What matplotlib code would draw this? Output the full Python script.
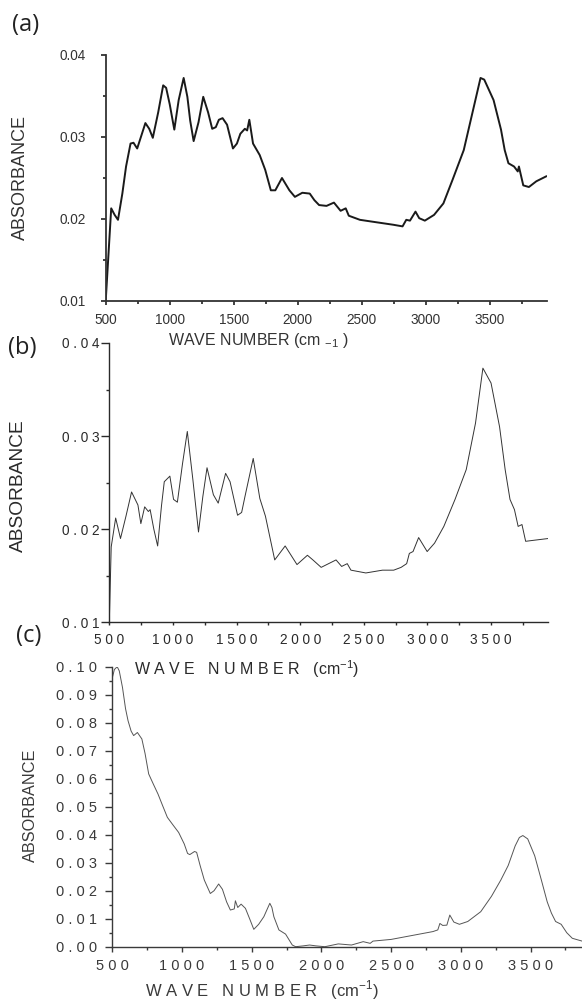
import matplotlib
matplotlib.use('Agg')
import matplotlib.pyplot as plt
from matplotlib.ticker import MultipleLocator, FuncFormatter

# figure size in pixels (dpi 100)
W, H = 582, 1002

# (a) spectrum
wn_a = [500, 543, 570, 596, 630, 659, 694, 717, 746, 775, 810, 840, 868, 910, 949,
        972, 1000, 1036, 1070, 1109, 1138, 1160, 1187, 1225, 1262, 1300, 1332, 1360,
        1384, 1413, 1448, 1494, 1525, 1552, 1587, 1605, 1622, 1651, 1703, 1746, 1790,
        1825, 1877, 1935, 1978, 2036, 2094, 2130, 2167, 2225, 2283, 2335, 2375, 2399,
        2486, 2572, 2659, 2746, 2819, 2848, 2877, 2920, 2949, 2993, 3065, 3138, 3210,
        3297, 3370, 3428, 3457, 3530, 3588, 3617, 3646, 3690, 3719, 3728, 3762, 3806,
        3864, 3941]
abs_a = [0.0100, 0.0213, 0.0205, 0.0199, 0.0231, 0.0264, 0.0292, 0.0293, 0.0286, 0.0300,
         0.0317, 0.0310, 0.0299, 0.0330, 0.0363, 0.0360, 0.0340, 0.0309, 0.0345, 0.0372,
         0.0349, 0.0320, 0.0295, 0.0318, 0.0349, 0.0330, 0.0310, 0.0312, 0.0321, 0.0323,
         0.0315, 0.0286, 0.0292, 0.0304, 0.0310, 0.0308, 0.0321, 0.0292, 0.0278, 0.0260,
         0.0235, 0.0235, 0.0250, 0.0235, 0.0227, 0.0232, 0.0231, 0.0223, 0.0217, 0.0216,
         0.0220, 0.0210, 0.0213, 0.0204, 0.0199, 0.0197, 0.0195, 0.0193, 0.0191, 0.0199,
         0.0198, 0.0209, 0.0201, 0.0198, 0.0205, 0.0219, 0.0248, 0.0284, 0.0333, 0.0372,
         0.0370, 0.0345, 0.0309, 0.0284, 0.0268, 0.0264, 0.0258, 0.0264, 0.0241, 0.0239,
         0.0246, 0.0252]

# (b) spectrum
wn_b = [500, 515, 550, 588, 631, 675, 725, 748, 778, 807, 821, 850, 880, 910, 932, 976,
        1005, 1035, 1075, 1113, 1157, 1201, 1235, 1268, 1318, 1356, 1414, 1449, 1508,
        1540, 1566, 1631, 1683, 1727, 1800, 1882, 1975, 2057, 2100, 2165, 2282, 2326,
        2370, 2399, 2516, 2647, 2735, 2793, 2837, 2858, 2887, 2931, 2998, 3056, 3129,
        3217, 3305, 3378, 3436, 3500, 3567, 3611, 3649, 3684, 3713, 3743, 3772, 3830, 3950]
abs_b = [0.0100, 0.0181, 0.0212, 0.0190, 0.0214, 0.0240, 0.0226, 0.0206, 0.0224, 0.0219,
         0.0221, 0.0200, 0.0182, 0.0225, 0.0251, 0.0257, 0.0232, 0.0229, 0.0270, 0.0305,
         0.0253, 0.0197, 0.0235, 0.0266, 0.0237, 0.0228, 0.0260, 0.0251, 0.0215, 0.0218,
         0.0235, 0.0276, 0.0233, 0.0214, 0.0167, 0.0182, 0.0162, 0.0172, 0.0167, 0.0159,
         0.0167, 0.0160, 0.0163, 0.0156, 0.0153, 0.0156, 0.0156, 0.0159, 0.0163, 0.0174,
         0.0176, 0.0191, 0.0176, 0.0185, 0.0203, 0.0232, 0.0264, 0.0314, 0.0373, 0.0357,
         0.0310, 0.0264, 0.0232, 0.0221, 0.0203, 0.0205, 0.0187, 0.0188, 0.0190]

# (c) spectrum
wn_c = [500, 515, 535, 550, 573, 595, 613, 635, 653, 680, 712, 735, 761, 795, 828, 860,
        895, 935, 976, 1016, 1040, 1056, 1090, 1105, 1130, 1160, 1203, 1230, 1263, 1290,
        1320, 1347, 1375, 1383, 1400, 1424, 1455, 1485, 1515, 1550, 1587, 1612, 1630,
        1645, 1659, 1695, 1743, 1791, 1815, 1870, 1915, 1960, 2025, 2121, 2216, 2300,
        2350, 2370, 2500, 2650, 2800, 2835, 2850, 2870, 2900, 2921, 2950, 2990, 3050,
        3143, 3220, 3287, 3340, 3390, 3420, 3445, 3480, 3530, 3578, 3620, 3650, 3680,
        3720, 3760, 3800, 3870, 3950]
abs_c = [0.0960, 0.0990, 0.1000, 0.0985, 0.0926, 0.0850, 0.0807, 0.0770, 0.0754, 0.0765,
         0.0742, 0.0690, 0.0617, 0.0580, 0.0545, 0.0505, 0.0462, 0.0435, 0.0408, 0.0367,
         0.0333, 0.0329, 0.0340, 0.0337, 0.0290, 0.0238, 0.0190, 0.0200, 0.0224, 0.0205,
         0.0160, 0.0131, 0.0135, 0.0164, 0.0140, 0.0152, 0.0137, 0.0100, 0.0062, 0.0080,
         0.0107, 0.0135, 0.0155, 0.0140, 0.0107, 0.0060, 0.0045, 0.0006, 0.0000, 0.0003,
         0.0006, 0.0003, 0.0000, 0.0010, 0.0006, 0.0018, 0.0012, 0.0020, 0.0026, 0.0040,
         0.0054, 0.0060, 0.0083, 0.0076, 0.0077, 0.0113, 0.0088, 0.0080, 0.0090, 0.0125,
         0.0180, 0.0238, 0.0290, 0.0360, 0.0390, 0.0397, 0.0385, 0.0325, 0.0238, 0.0160,
         0.0120, 0.0090, 0.0080, 0.0050, 0.0030, 0.0020, 0.0015]

x_ticks = [500, 1000, 1500, 2000, 2500, 3000, 3500]

SANS = ['Liberation Sans', 'DejaVu Sans']


def px_rect(left, top, right, bottom):
    return [left / W, 1 - bottom / H, (right - left) / W, (bottom - top) / H]


def spaced(fmt):
    # tick labels drawn with wide letter spacing
    return FuncFormatter(lambda v, p: ' '.join(fmt.format(v)))


def style_axes(ax, col, lw, ylen, xlen, ypad, xpad, size):
    for s in ['top', 'right']:
        ax.spines[s].set_visible(False)
    for s in ['left', 'bottom']:
        ax.spines[s].set_color(col)
        ax.spines[s].set_linewidth(lw)
    ax.set_xticks(x_ticks)
    ax.xaxis.set_minor_locator(MultipleLocator(250))
    ax.tick_params(axis='y', which='major', direction='out', length=ylen, width=lw,
                   pad=ypad, colors=col, labelsize=size)
    ax.tick_params(axis='x', which='major', direction='out', length=xlen, width=lw,
                   pad=xpad, colors=col, labelsize=size)
    ax.tick_params(which='minor', direction='out', length=2.2, width=lw, colors=col)
    for lab in ax.get_xticklabels() + ax.get_yticklabels():
        lab.set_family(SANS)


fig = plt.figure(figsize=(W / 100, H / 100), dpi=100)

# ---- (a)
ax = fig.add_axes(px_rect(105.7, 55, 546.7, 301))
ax.plot(wn_a, abs_a, color='#1a1a1a', lw=1.4)
ax.set_xlim(500, 3945)
ax.set_ylim(0.01, 0.04)
ax.set_yticks([0.01, 0.02, 0.03, 0.04])
ax.yaxis.set_minor_locator(MultipleLocator(0.005))
ax.yaxis.set_major_formatter(FuncFormatter(lambda v, p: f'{v:.2f}'))
style_axes(ax, '#333333', 1.3, 3.6, 3.0, 10.8, 5.5, 9.8)
fig.text(20.5 / W, 1 - 178 / H, 'ABSORBANCE', rotation=90, ha='center', va='center',
         fontsize=13, color='#333333', family=SANS)
fig.text(258 / W, 1 - 341 / H, r'WAVE NUMBER (cm $\mathregular{_{-1}}$ )', ha='center',
         va='center', fontsize=11.5, color='#333333', family=SANS)

# ---- (b)
ax = fig.add_axes(px_rect(109.3, 343, 548.3, 622.3))
ax.plot(wn_b, abs_b, color='#333333', lw=0.7)
ax.set_xlim(500, 3950)
ax.set_ylim(0.01, 0.04)
ax.set_yticks([0.01, 0.02, 0.03, 0.04])
ax.yaxis.set_minor_locator(MultipleLocator(0.005))
ax.yaxis.set_major_formatter(spaced('{:.2f}'))
ax.xaxis.set_major_formatter(spaced('{:.0f}'))
style_axes(ax, '#2a2a2a', 1.0, 5.5, 2.5, 1.5, 5.4, 9.8)
fig.text(18.5 / W, 1 - 486 / H, 'ABSORBANCE', rotation=90, ha='center', va='center',
         fontsize=13.8, color='#2a2a2a', family=SANS)
fig.text(247 / W, 1 - 669 / H, r'W A V E   N U M B E R   (cm$^{\mathregular{-1}}$)',
         ha='center', va='center', fontsize=11.5, color='#2a2a2a', family=SANS)

# ---- (c)  the right part of this axis is cut off by the figure edge
ax = fig.add_axes(px_rect(112.3, 666.7, 112.3 + 3450 * 0.1394, 946.7))
ax.plot(wn_c, abs_c, color='#555555', lw=0.7)
ax.set_xlim(500, 3950)
ax.set_ylim(0.0, 0.10)
ax.set_yticks([i / 100 for i in range(11)])
ax.yaxis.set_minor_locator(MultipleLocator(0.005))
ax.yaxis.set_major_formatter(spaced('{:.2f}'))
ax.xaxis.set_major_formatter(spaced('{:.0f}'))
style_axes(ax, '#3a3a3a', 1.0, 5.0, 3.6, 6.0, 5.3, 10.5)
fig.text(30.5 / W, 1 - 805 / H, 'ABSORBANCE', rotation=90, ha='center', va='center',
         fontsize=11.7, color='#3a3a3a', family=SANS)
fig.text(262 / W, 1 - 990 / H, r'W A V E   N U M B E R   (cm$^{\mathregular{-1}}$)',
         ha='center', va='center', fontsize=12, color='#3a3a3a', family=SANS)

# panel letters
for lab, x, y in [('(a)', 26, 25), ('(b)', 22, 348), ('(c)', 29, 636)]:
    fig.text(x / W, 1 - y / H, lab, ha='center', va='center', fontsize=17,
             color='#222222', family=['Open Sans', 'DejaVu Sans'])

fig.savefig('out.png', dpi=100)
